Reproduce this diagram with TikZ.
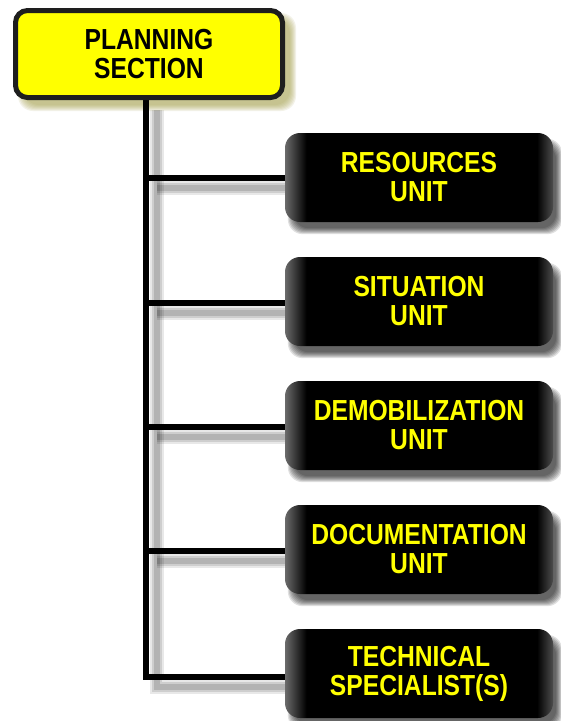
\documentclass[tikz,border=0pt]{standalone}
\usepackage{fontspec}
\newfontfamily\labfont[FakeStretch=0.85]{Liberation Sans}
\usetikzlibrary{calc}
\pgfdeclarelayer{bg}
\pgfdeclarelayer{mid}
\pgfsetlayers{bg,mid,main}
\definecolor{ylw}{HTML}{FFFF00}
\definecolor{edgecol}{HTML}{1E1E1E}
\definecolor{yshadow}{HTML}{A8A250}
\pgfdeclarehorizontalshading{boxshade}{100bp}{color(0bp)=(black!58); color(25bp)=(black!58); color(29bp)=(black); color(72bp)=(black); color(75bp)=(black!70); color(100bp)=(black!70)}
\tikzset{
  lbl/.style={font=\labfont\bfseries\fontsize{29}{29}\selectfont, align=center},
  sectionbox/.style={lbl, rectangle, rounded corners=12pt, fill=ylw, draw=edgecol,
    line width=5pt, minimum width=267pt, minimum height=87pt, inner sep=0pt, text=black},
  unitbox/.style={lbl, rectangle, rounded corners=15pt, shade, shading=boxshade,
    minimum width=268pt, minimum height=89pt, inner sep=0pt, text=ylw},
  link/.style={line width=6pt, black},
  linkshadow/.style={black, transform canvas={shift={(11,10)}}}
}
\newcommand\softbox[5]{%
  \foreach \k in {0,...,6}{%
    \fill[#4, opacity=#5, rounded corners=15pt]
      ($(#1.north west)+(#2-3+\k,#3-3+\k)$) rectangle ($(#1.south east)+(#2+3-\k,#3+3-\k)$);
  }}
\begin{document}
\begin{tikzpicture}[x=1pt, y=-1pt]
\useasboundingbox (0,0) rectangle (561,721);
\begin{pgfonlayer}{bg}
  \fill[white] (0,0) rectangle (561,721);
\end{pgfonlayer}

% boxes
\node[sectionbox] (ps) at (149,54) {PLANNING\\SECTION};
\node[unitbox] (b1) at (419,177.5) {RESOURCES\\UNIT};
\node[unitbox] (b2) at (419,301.5) {SITUATION\\UNIT};
\node[unitbox] (b3) at (419,425.5) {DEMOBILIZATION\\UNIT};
\node[unitbox] (b4) at (419,549.5) {DOCUMENTATION\\UNIT};
\node[unitbox] (b5) at (419,673.5) {TECHNICAL\\SPECIALIST(S)};

% trunk coordinates
\coordinate (t1) at (146,178);
\coordinate (t2) at (146,302.5);
\coordinate (t3) at (146,426.5);
\coordinate (t4) at (146,550.5);
\coordinate (t5) at (146,677);

% shadows
\begin{pgfonlayer}{bg}
  \foreach \w/\o in {14/0.09, 10/0.11, 6/0.13}{
    \draw[linkshadow, line width=\w pt, opacity=\o] (ps.south -| t1) -- (t5) -- (t5 -| b5.west);
    \draw[linkshadow, line width=\w pt, opacity=\o] (t1) -- (t1 -| b1.west);
    \draw[linkshadow, line width=\w pt, opacity=\o] (t2) -- (t2 -| b2.west);
    \draw[linkshadow, line width=\w pt, opacity=\o] (t3) -- (t3 -| b3.west);
    \draw[linkshadow, line width=\w pt, opacity=\o] (t4) -- (t4 -| b4.west);
  }
  \softbox{ps}{8}{8}{yshadow}{0.13}
  \softbox{b1}{6}{9}{black}{0.12}
  \softbox{b2}{6}{9}{black}{0.12}
  \softbox{b3}{6}{9}{black}{0.12}
  \softbox{b4}{6}{9}{black}{0.12}
  \softbox{b5}{6}{9}{black}{0.12}
\end{pgfonlayer}

% connectors
\begin{pgfonlayer}{mid}
  \draw[link] (ps.south -| t1) -- (t5) -- (t5 -| b5.west);
  \draw[link] (t1) -- (t1 -| b1.west);
  \draw[link] (t2) -- (t2 -| b2.west);
  \draw[link] (t3) -- (t3 -| b3.west);
  \draw[link] (t4) -- (t4 -| b4.west);
\end{pgfonlayer}
\end{tikzpicture}
\end{document}
